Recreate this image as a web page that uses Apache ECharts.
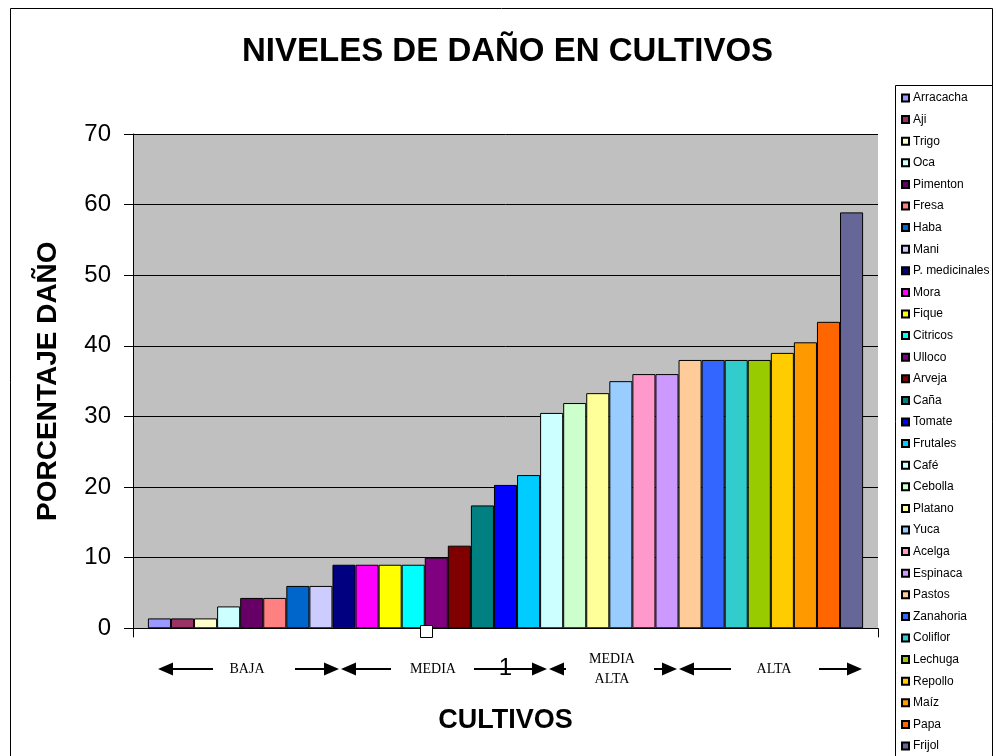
<!DOCTYPE html>
<html><head><meta charset="utf-8">
<script src="https://cdn.jsdelivr.net/npm/echarts@6/dist/echarts.min.js"></script>
<style>html,body{margin:0;padding:0;background:#fff}#c{width:996px;height:756px}</style>
</head><body><div id="c"></div>
<script>
const categories = ['1'];
const cropNames = ['Arracacha','Aji','Trigo','Oca','Pimenton','Fresa','Haba','Mani','P. medicinales','Mora','Fique','Citricos','Ulloco','Arveja','Caña','Tomate','Frutales','Café','Cebolla','Platano','Yuca','Acelga','Espinaca','Pastos','Zanahoria','Coliflor','Lechuga','Repollo','Maíz','Papa','Frijol'];
const cropValues = [1.4,1.4,1.4,3.1,4.3,4.3,6.0,6.0,9.0,9.0,9.0,9.0,10.0,11.7,17.4,20.3,21.7,30.5,31.9,33.3,35.0,36.0,36.0,38.0,38.0,38.0,38.0,39.0,40.5,43.4,58.9];
const cropColors = ['#9999FF','#993366','#FFFFCC','#CCFFFF','#660066','#FF8080','#0066CC','#CCCCFF','#000080','#FF00FF','#FFFF00','#00FFFF','#800080','#800000','#008080','#0000FF','#00CCFF','#CCFFFF','#CCFFCC','#FFFF99','#99CCFF','#FF99CC','#CC99FF','#FFCC99','#3366FF','#33CCCC','#99CC00','#FFCC00','#FF9900','#FF6600','#666699'];
const yMin = 0, yMax = 70, yStep = 10;
const levelLabels = ['BAJA','MEDIA','MEDIA\nALTA','ALTA'];

const chart = echarts.init(document.getElementById('c'), null, {renderer:'canvas'});
const SANS = 'Arial, "Liberation Sans", sans-serif';
const SERIF = '"Times New Roman", "Liberation Serif", serif';

const AY = 669;
function leftArrow(tip, end){
  return [
    {type:'line', shape:{x1:tip+12, y1:AY, x2:end, y2:AY}, style:{stroke:'#000', lineWidth:2}, z:10},
    {type:'polygon', shape:{points:[[tip,AY],[tip+15,AY-6.5],[tip+15,AY+6.5]]}, style:{fill:'#000'}, z:10}
  ];
}
function rightArrow(start, tip){
  return [
    {type:'line', shape:{x1:start, y1:AY, x2:tip-12, y2:AY}, style:{stroke:'#000', lineWidth:2}, z:10},
    {type:'polygon', shape:{points:[[tip,AY],[tip-15,AY-6.5],[tip-15,AY+6.5]]}, style:{fill:'#000'}, z:10}
  ];
}
const textX = [247, 433, 612, 774];
const graphics = [
  {type:'rect', shape:{x:10.5, y:8.5, width:982, height:800}, style:{fill:null, stroke:'#000', lineWidth:1}, z:-10},
  {type:'rect', shape:{x:895.5, y:85.5, width:97, height:700}, style:{fill:'#fff', stroke:'#000', lineWidth:1}, z:0},
  {type:'rect', shape:{x:420.5, y:625.5, width:12, height:12}, style:{fill:'#fff', stroke:'#000', lineWidth:1}, z:20},
  ...leftArrow(158, 213), ...rightArrow(295, 339),
  ...leftArrow(341, 391), ...rightArrow(474, 547),
  ...leftArrow(549, 566), ...rightArrow(654, 677),
  ...leftArrow(679, 731), ...rightArrow(819, 862),
  ...levelLabels.map((t,i)=>({type:'text', x:textX[i], y:AY, style:{text:t, fill:'#000', font:'14px '+SERIF, align:'center', verticalAlign:'middle', lineHeight:20}, z:10}))
];

const option = {
  backgroundColor:'#fff',
  animation:false,
  title:{text:'NIVELES DE DAÑO EN CULTIVOS', left:242, top:32, padding:0,
    textStyle:{fontFamily:SANS, fontSize:33, fontWeight:'bold', color:'#000', lineHeight:40}},
  legend:{orient:'vertical', left:901, top:91, height:900, padding:0, itemWidth:7, itemHeight:7, itemGap:7.6,
    icon:'rect', selectedMode:false, z:5,
    textStyle:{fontFamily:SANS, fontSize:12, color:'#000', lineHeight:14, padding:[0,0,0,-1]},
    data:cropNames},
  grid:{left:133, right:118, top:134, bottom:127.7, show:true, backgroundColor:'#C0C0C0', borderWidth:0, containLabel:false},
  xAxis:{type:'category', data:categories,
    name:'CULTIVOS', nameLocation:'middle', nameGap:79,
    nameTextStyle:{fontFamily:SANS, fontSize:27, fontWeight:'bold', color:'#000'},
    axisLine:{lineStyle:{color:'#000', width:1}},
    axisTick:{show:true, length:9, lineStyle:{color:'#000'}},
    axisLabel:{fontFamily:SANS, fontSize:24, color:'#000', margin:28}},
  yAxis:{type:'value', min:yMin, max:yMax, interval:yStep,
    name:'PORCENTAJE DAÑO', nameLocation:'middle', nameGap:71,
    nameTextStyle:{fontFamily:SANS, fontSize:28, fontWeight:'bold', color:'#000'},
    axisLine:{show:true, lineStyle:{color:'#000', width:1}},
    axisTick:{show:true, length:9, lineStyle:{color:'#000'}},
    axisLabel:{fontFamily:SANS, fontSize:24, color:'#000', margin:22},
    splitLine:{show:true, lineStyle:{color:'#000', width:1}}},
  graphic:graphics,
  series:cropNames.map((n,i)=>({
    name:n, type:'bar', data:[cropValues[i]],
    barGap:'0%', barCategoryGap:'4%',
    itemStyle:{color:cropColors[i], borderColor:'#000', borderWidth:1}
  }))
};
chart.setOption(option);
</script>
</body></html>
